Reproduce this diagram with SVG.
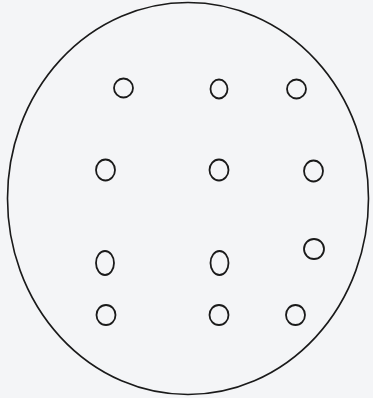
<svg xmlns="http://www.w3.org/2000/svg" width="373" height="398" viewBox="0 0 373 398">
<style>
.o{fill:none;stroke:#1a1a1a;stroke-width:1.6}
.h{fill:none;stroke:#1a1a1a;stroke-width:1.8}
</style>
<rect width="373" height="398" fill="#f4f5f7"/>
<g id="outer"><ellipse class="o" cx="188" cy="198.5" rx="180.5" ry="196"/></g>
<g id="h1"><ellipse class="h" cx="123.5" cy="88" rx="9.5" ry="9.5"/></g>
<g id="h2"><ellipse class="h" cx="219" cy="89" rx="8.5" ry="9.5"/></g>
<g id="h3"><ellipse class="h" cx="296.5" cy="89" rx="9.5" ry="9.5"/></g>
<g id="h4"><ellipse class="h" cx="105.5" cy="170" rx="9.5" ry="10.5"/></g>
<g id="h5"><ellipse class="h" cx="219" cy="170" rx="9.5" ry="10.5"/></g>
<g id="h6"><ellipse class="h" cx="313.5" cy="171" rx="9.5" ry="10.5"/></g>
<g id="h7"><ellipse class="h" cx="105" cy="263" rx="9" ry="12"/></g>
<g id="h8"><ellipse class="h" cx="219.5" cy="263" rx="9" ry="12"/></g>
<g id="h9"><ellipse class="h" cx="314" cy="249" rx="10" ry="10"/></g>
<g id="h10"><ellipse class="h" cx="106" cy="315" rx="9.5" ry="10"/></g>
<g id="h11"><ellipse class="h" cx="219" cy="315" rx="9.5" ry="10"/></g>
<g id="h12"><ellipse class="h" cx="295.5" cy="315" rx="9.5" ry="10"/></g>
</svg>
